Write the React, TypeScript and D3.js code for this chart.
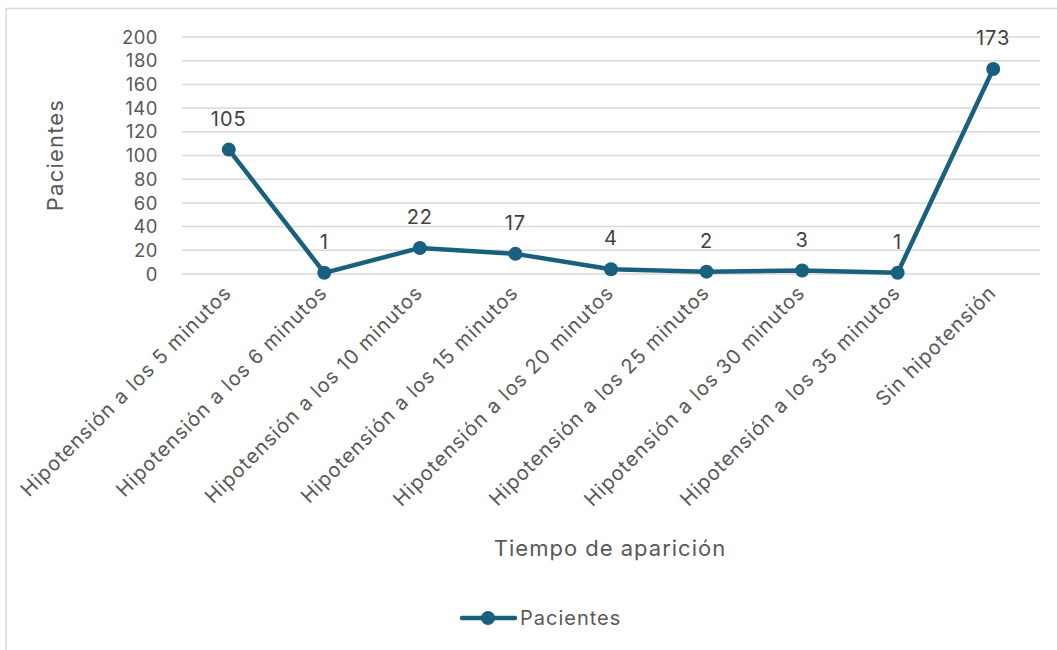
import React from "react";
import * as d3 from "d3";

const categories = [
  "Hipotensión a los 5 minutos",
  "Hipotensión a los 6 minutos",
  "Hipotensión a los 10 minutos",
  "Hipotensión a los 15 minutos",
  "Hipotensión a los 20 minutos",
  "Hipotensión a los 25 minutos",
  "Hipotensión a los 30 minutos",
  "Hipotensión a los 35 minutos",
  "Sin hipotensión",
];
const values = [105, 1, 22, 17, 4, 2, 3, 1, 173];
const yTicks = [0, 20, 40, 60, 80, 100, 120, 140, 160, 180, 200];
const seriesName = "Pacientes";
const xTitle = "Tiempo de aparición";
const yTitle = "Pacientes";

const W = 1057;
const H = 650;
const FONT = "Inter, 'Open Sans', 'Liberation Sans', sans-serif";
const TEXT = "#595959";
const LINE = "#19607f";

export default function App() {
  const x = d3.scaleBand<string>().domain(categories).range([181, 1041]);
  const y = d3.scaleLinear().domain([0, 200]).range([274, 37]);
  const cx = (c: string) => (x(c) as number) + x.bandwidth() / 2;
  const line = d3
    .line<number>()
    .x((_, i) => cx(categories[i]))
    .y((d) => y(d));

  return (
    <svg
      width={W}
      height={H}
      style={{ position: "absolute", left: 0, top: 0, background: "#fff" }}
      fontFamily={FONT}
    >
      <rect x={6} y={8.5} width={W + 10} height={H + 10} fill="#fff" stroke="#d9d9d9" strokeWidth={1.5} />
      {yTicks.map((t) => (
        <g key={t}>
          <line x1={182} x2={1040} y1={y(t)} y2={y(t)} stroke="#d9d9d9" strokeWidth={1.5} />
          <text x={158} y={y(t)} dy="0.36em" textAnchor="end" fontSize={18.5} letterSpacing={0.5} fill={TEXT}>
            {t}
          </text>
        </g>
      ))}
      <text
        transform={`translate(63,155) rotate(-90)`}
        textAnchor="middle"
        fontSize={22}
        letterSpacing={1.2}
        fill={TEXT}
      >
        {yTitle}
      </text>
      {categories.map((c) => (
        <text
          key={c}
          transform={`translate(${cx(c) + 4},${294}) rotate(-45)`}
          textAnchor="end"
          fontSize={20}
          letterSpacing={1}
          fill={TEXT}
        >
          {c}
        </text>
      ))}
      <text x={610} y={556} textAnchor="middle" fontSize={22} letterSpacing={1} fill={TEXT}>
        {xTitle}
      </text>
      <path d={line(values) || ""} fill="none" stroke={LINE} strokeWidth={4.5} strokeLinejoin="round" />
      {values.map((v, i) => (
        <circle key={i} cx={cx(categories[i])} cy={y(v)} r={7} fill={LINE} />
      ))}
      {values.map((v, i) => (
        <text
          key={"l" + i}
          x={cx(categories[i])}
          y={y(v) - 31}
          dy="0.36em"
          textAnchor="middle"
          fontSize={20}
          letterSpacing={1}
          fill="#404040"
        >
          {v}
        </text>
      ))}
      <line x1={462} x2={515} y1={618} y2={618} stroke={LINE} strokeWidth={4.5} strokeLinecap="round" />
      <circle cx={488} cy={618} r={7} fill={LINE} />
      <text x={520} y={618} dy="0.36em" fontSize={20} letterSpacing={1} fill={TEXT}>
        {seriesName}
      </text>
    </svg>
  );
}
